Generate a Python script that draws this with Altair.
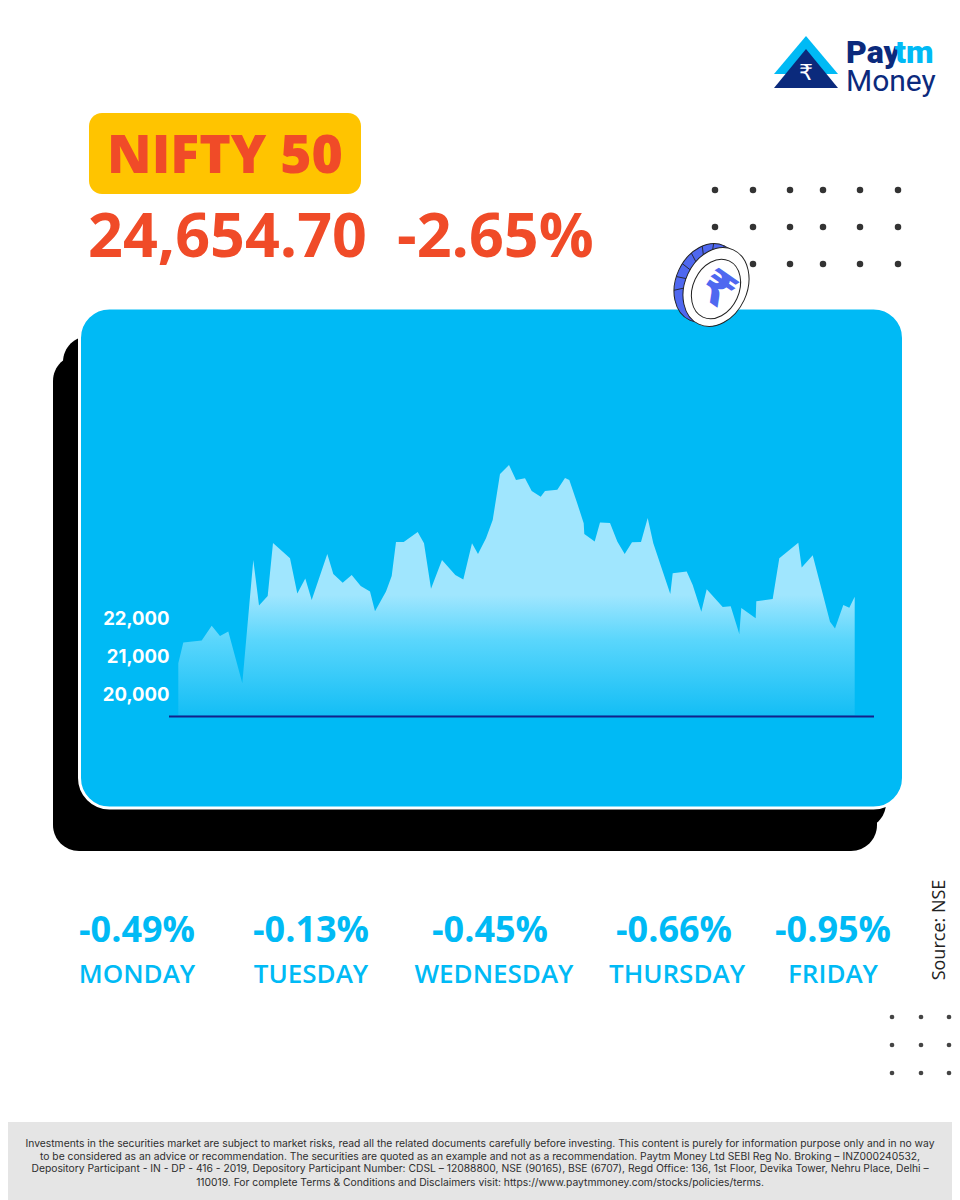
import math
import altair as alt
import pandas as pd

# ---- chart data (session position along the period, index level)
session = [0.3,5.3,23.7,33.7,42,50.3,64.3,75.3,81,89.7,95,112,119.3,127.3,133.7,149.3,155.3,164.7,173.7,182.7,192,197,208,213.7,218,225.7,239.7,246,253,264,277.3,285.3,294,300,
           302,308,314.7,322,331,338,347,353.7,362.7,367,379.3,387,391.3,398.7,405.7,406.3,416.7,422,432,439.3,446.7,454,463,469.7,475.3,492.3,494.7,508.7,514.7,523.3,528.7,544.7,552.7,561.3,563.3,577.7,578.3,594.7,601.3,620.3,623.7,634.7,652,657,665.3,671.3,676.7]
level = [20780,21330,21380,21770,21500,21620,20255,23500,22300,22550,23950,23545,22620,23010,22450,23660,23130,22900,23105,22815,22670,22150,22670,23080,23975,23975,24235,23940,22745,23500,23105,22990,23940,23660,
         23765,24070,24550,25765,26000,25605,25650,25315,25165,25315,25350,25660,25605,25035,24465,24185,23985,24490,24475,23985,23660,23965,23975,24605,23940,22605,23150,23195,22840,22140,22730,22265,22280,21555,22235,21965,22415,22475,23545,23955,23305,23625,21875,21695,22315,22245,22535]
tick_values = [20000, 21000, 22000]
days = ["MONDAY", "TUESDAY", "WEDNESDAY", "THURSDAY", "FRIDAY"]
day_changes = ["-0.49%", "-0.13%", "-0.45%", "-0.66%", "-0.95%"]
index_name = "NIFTY 50"
index_close = "24,654.70"
index_change = "-2.65%"
source_note = "Source: NSE"
footer_lines = [
    "Investments in the securities market are subject to market risks, read all the related documents carefully before investing. This content is purely for information purpose only and in no way",
    "to be considered as an advice or recommendation. The securities are quoted as an example and not as a recommendation. Paytm Money Ltd SEBI Reg No. Broking \u2013 INZ000240532,",
    "Depository Participant - IN - DP - 416 - 2019, Depository Participant Number: CDSL \u2013 12088800, NSE (90165), BSE (6707), Regd Office: 136, 1st Floor, Devika Tower, Nehru Place, Delhi \u2013",
    "110019. For complete Terms & Conditions and Disclaimers visit: https://www.paytmmoney.com/stocks/policies/terms.",
]

# ---- layout (page pixels; the plot area starts at the 8px page margin)
W, H = 944, 1192
RED, YELLOW, SKY, NAVY = "#F04B28", "#FFC400", "#00BAF5", "#0B2A7C"
DAY_X = [137, 311, 490, 674, 833]
DAY2_X = [137, 311, 494, 677, 833]
OS = "Open Sans"


def X(p):
    return alt.value(p - 8)


def Y(p):
    return alt.value(p - 8)


def box(x0, y0, x1, y1, color, radius=0, **kw):
    return alt.Chart().mark_rect(color=color, cornerRadius=radius, **kw).encode(
        x=X(x0), x2=X(x1), y=Y(y0), y2=Y(y1))


def txt(s, x, y, size, color, font=OS, weight=400, align="center", angle=0):
    return alt.Chart().mark_text(text=s, font=font, fontSize=size, fontWeight=weight, color=color,
                                 align=align, baseline="alphabetic", angle=angle).encode(x=X(x), y=Y(y))


def shape(path, x, y, fill=None, stroke=None, sw=0, angle=0):
    kw = dict(shape=path, size=4, filled=True, opacity=1, angle=angle, strokeWidth=sw)
    kw["fill"] = fill if fill else "transparent"
    if stroke:
        kw["stroke"] = stroke
    else:
        kw["stroke"] = "transparent"
    return alt.Chart().mark_point(**kw).encode(x=X(x), y=Y(y))


def ellipse(a, b):
    return f"M{-a},0 A{a},{b} 0 1,1 {a},0 A{a},{b} 0 1,1 {-a},0 Z"


layers = []

# footer band
layers.append(box(8, 1122, 952, 1200, "#E5E5E5"))
for line, fy in zip(footer_lines, [1147, 1160, 1172, 1186]):
    layers.append(txt(line, 480, fy, 10.3, "#2E2E2E", font="Inter"))

# logo
layers.append(shape("M0,-19 L32,19 L-32,19 Z", 806, 55, fill=SKY))
layers.append(shape("M0,-19.5 L32,19.5 L-32,19.5 Z", 806, 68.5, fill=NAVY))
layers.append(txt("\u20b9", 806, 80, 22, "white", font="DejaVu Sans", weight=400))
layers.append(txt("Pay", 846, 63, 32, NAVY, font="Roboto", weight=900, align="left"))
layers.append(txt("tm", 895, 63, 32, SKY, font="Roboto", weight=900, align="left"))
layers.append(txt("Money", 846, 91, 30, NAVY, font="Roboto", weight=400, align="left"))

# headline
layers.append(box(89, 113, 361, 194, YELLOW, radius=13))
layers.append(txt(index_name, 225, 173, 53.5, RED, weight=800))
layers.append(txt(index_close, 88, 257, 61, RED, weight=700, align="left"))
layers.append(txt(index_change, 397, 257, 61, RED, weight=700, align="left"))

# dot grids
for dx in [715, 753, 790, 823, 860, 898]:
    for dy in [190, 227, 264]:
        layers.append(alt.Chart().mark_circle(size=42, color="#333333", opacity=1).encode(x=X(dx), y=Y(dy)))
for dx in [892, 921, 949]:
    for dy in [1017, 1045, 1073]:
        layers.append(alt.Chart().mark_circle(size=22, color="#444444", opacity=1).encode(x=X(dx), y=Y(dy)))

# panel
layers.append(box(53, 355, 877, 851, "black", radius=26))
layers.append(box(63, 336, 886, 829, "black", radius=26))
layers.append(box(79.5, 308, 903.5, 808, SKY, radius=30, stroke="white", strokeWidth=3))

# index chart
frame = pd.DataFrame({"session": session, "level": level})
x_scale = alt.Scale(domain=[-170, 774], nice=False, zero=False)
y_scale = alt.Scale(domain=[6658, 38026], nice=False, zero=False)
gradient = alt.Gradient(
    gradient="linear", x1=0, x2=0, y1=0, y2=1,
    stops=[alt.GradientStop(color="#A0E6FE", offset=0),
           alt.GradientStop(color="#A0E6FE", offset=0.52),
           alt.GradientStop(color="#5AD6FC", offset=0.70),
           alt.GradientStop(color="#14BEF5", offset=1)])
area = alt.Chart(frame).mark_area(color=gradient, opacity=1, interpolate="linear").encode(
    x=alt.X("session:Q", scale=x_scale, axis=None),
    y=alt.Y("level:Q", scale=y_scale, title=None, axis=alt.Axis(
        values=tick_values, format=",.0f", domain=False, ticks=False, grid=False, offset=-161, labelPadding=0, zindex=1,
        labelOffset=2, labelColor="white", labelFont="Inter", labelFontSize=18.5, labelFontWeight=700)),
    y2=alt.datum(19420),
)
layers.append(area)
layers.append(alt.Chart().mark_rule(color="#14208A", strokeWidth=2).encode(x=X(169), x2=X(874), y=Y(716.5)))

# coin
layers.append(shape(ellipse(31, 41), 707, 283, fill="#4F68F0", stroke="#222222", sw=1, angle=25))
spokes = ""
for t in [30, 10, 350, 330, 310, 290, 270]:
    # t is the angle on the rim, measured in the tilted ellipse
    c, s = math.cos(math.radians(t)), math.sin(math.radians(t))
    spokes += f"M{-31*c:.1f},{41*s:.1f} L0,0 "
layers.append(shape(spokes, 707, 283, stroke="#222222", sw=0.8, angle=25))
layers.append(shape(ellipse(31, 41), 716, 287, fill="white", stroke="#222222", sw=1, angle=25))
layers.append(shape(ellipse(23, 31), 716, 289, fill="white", stroke="#222222", sw=1, angle=25))
layers.append(txt("\u20b9", 709, 302, 46, "#4F68F0", font="DejaVu Sans", weight=700, angle=35))

# weekday moves
for chg, cx in zip(day_changes, DAY_X):
    layers.append(txt(chg, cx, 942, 36, SKY, weight=700))
for day, cx in zip(days, DAY2_X):
    layers.append(txt(day, cx, 983, 26, SKY, weight=600))
layers.append(txt(source_note, 945, 930, 18, "#222222", angle=270))

chart = alt.layer(*layers).properties(
    width=W, height=H, padding=0, background="white",
    autosize=alt.AutoSizeParams(type="none"),
).configure_view(stroke=None)

chart.save("out.html", embed_options={"renderer": "svg", "actions": False})
